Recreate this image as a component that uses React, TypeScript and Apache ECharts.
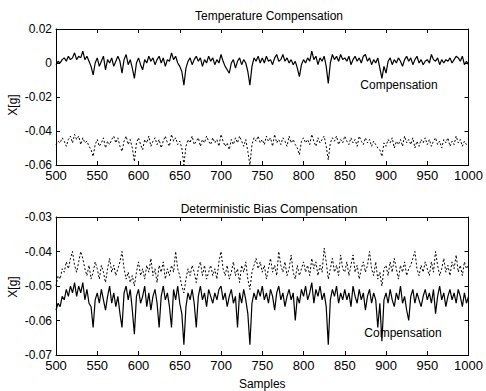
import React, { useEffect, useRef } from "react";
import * as echarts from "echarts";

const X_START = 500;
const X_STEP = 2.5;
const X_TICKS = { min: 500, max: 1000, interval: 50 };

// Temperature compensation (top) — solid = compensated, dashed = raw
const tempComp = [
  -0.001, 0.001, 0.000, 0.002, 0.003, 0.001, 0.004, 0.002, 0.003, 0.006, 0.002, 0.004, 0.003, 0.007, 0.002, 0.004, 0.001, -0.002, -0.007, 0.000,
  0.003, -0.002, 0.001, 0.004, -0.004, 0.002, 0.000, 0.003, -0.002, 0.001, 0.004, 0.001, -0.006, 0.002, 0.005, -0.001, 0.002, -0.003, -0.009, 0.000,
  0.003, -0.001, -0.004, 0.002, 0.000, 0.004, 0.001, 0.003, -0.001, 0.002, 0.004, 0.000, 0.003, -0.002, 0.002, 0.001, 0.006, 0.002, 0.004, 0.000,
  -0.002, -0.005, -0.013, -0.003, 0.001, 0.003, -0.001, 0.002, 0.004, 0.001, 0.003, -0.002, 0.002, 0.000, 0.004, 0.001, 0.003, -0.001, 0.002, 0.000,
  0.005, 0.001, -0.002, -0.004, -0.006, 0.000, 0.002, -0.003, 0.001, 0.003, -0.001, 0.002, 0.000, -0.005, -0.013, -0.002, 0.003, 0.001, 0.004, 0.000,
  0.003, 0.000, 0.004, 0.001, 0.002, -0.001, 0.003, 0.005, 0.001, 0.002, 0.005, 0.001, 0.003, 0.000, 0.002, -0.001, 0.001, -0.003, -0.008, -0.001,
  0.002, 0.000, 0.003, 0.001, 0.007, 0.002, 0.004, -0.001, 0.003, 0.001, 0.004, -0.002, -0.012, 0.000, 0.005, 0.002, 0.004, 0.001, 0.005, 0.002,
  0.003, 0.001, 0.004, -0.001, 0.002, 0.004, 0.001, 0.003, 0.000, 0.004, 0.005, 0.001, 0.003, -0.001, 0.002, 0.000, 0.003, -0.003, -0.009, -0.002,
  -0.006, 0.001, 0.003, -0.001, 0.002, 0.000, 0.003, 0.001, -0.002, 0.002, 0.004, 0.001, 0.003, -0.001, 0.002, 0.004, 0.000, 0.002, -0.001, 0.001,
  0.002, 0.000, 0.005, 0.002, 0.001, 0.003, -0.001, 0.002, 0.000, 0.002, 0.001, 0.003, 0.000, 0.002, 0.004, 0.003, 0.001, 0.004, -0.001, 0.001,
  -0.001,
];
const tempRaw = [
  -0.048, -0.046, -0.047, -0.044, -0.046, -0.049, -0.045, -0.043, -0.047, -0.042, -0.045, -0.043, -0.048, -0.044, -0.047, -0.046, -0.049, -0.051, -0.055, -0.048,
  -0.045, -0.049, -0.047, -0.044, -0.050, -0.046, -0.048, -0.045, -0.043, -0.047, -0.044, -0.049, -0.052, -0.046, -0.043, -0.048, -0.045, -0.050, -0.058, -0.047,
  -0.044, -0.048, -0.051, -0.045, -0.047, -0.043, -0.049, -0.046, -0.044, -0.048, -0.045, -0.050, -0.046, -0.043, -0.047, -0.049, -0.042, -0.046, -0.044, -0.048,
  -0.046, -0.050, -0.060, -0.049, -0.045, -0.047, -0.043, -0.048, -0.046, -0.044, -0.049, -0.045, -0.047, -0.043, -0.046, -0.048, -0.044, -0.047, -0.045, -0.049,
  -0.042, -0.046, -0.049, -0.047, -0.051, -0.045, -0.048, -0.044, -0.047, -0.043, -0.046, -0.049, -0.045, -0.052, -0.060, -0.048, -0.044, -0.046, -0.043, -0.047,
  -0.045, -0.048, -0.043, -0.046, -0.044, -0.049, -0.042, -0.047, -0.045, -0.048, -0.044, -0.046, -0.049, -0.043, -0.047, -0.045, -0.048, -0.050, -0.054, -0.046,
  -0.044, -0.047, -0.045, -0.048, -0.042, -0.046, -0.049, -0.044, -0.047, -0.045, -0.043, -0.049, -0.057, -0.047, -0.044, -0.046, -0.043, -0.048, -0.045, -0.047,
  -0.043, -0.046, -0.048, -0.044, -0.047, -0.045, -0.049, -0.043, -0.046, -0.048, -0.044, -0.047, -0.045, -0.049, -0.046, -0.048, -0.050, -0.051, -0.055, -0.047,
  -0.049, -0.045, -0.047, -0.044, -0.050, -0.046, -0.048, -0.045, -0.049, -0.043, -0.047, -0.045, -0.048, -0.044, -0.050, -0.046, -0.049, -0.045, -0.047, -0.044,
  -0.048, -0.045, -0.049, -0.046, -0.044, -0.048, -0.046, -0.050, -0.045, -0.047, -0.044, -0.049, -0.046, -0.048, -0.043, -0.047, -0.045, -0.049, -0.046, -0.048,
  -0.047,
];

// Deterministic bias compensation (bottom)
const biasComp = [
  -0.057, -0.055, -0.056, -0.053, -0.054, -0.051, -0.053, -0.050, -0.052, -0.049, -0.053, -0.050, -0.052, -0.049, -0.054, -0.051, -0.055, -0.056, -0.062, -0.054,
  -0.052, -0.055, -0.051, -0.054, -0.057, -0.053, -0.050, -0.055, -0.052, -0.056, -0.053, -0.058, -0.062, -0.052, -0.050, -0.054, -0.051, -0.057, -0.064, -0.053,
  -0.051, -0.055, -0.053, -0.050, -0.056, -0.052, -0.057, -0.053, -0.051, -0.055, -0.062, -0.053, -0.050, -0.054, -0.052, -0.056, -0.062, -0.051, -0.054, -0.050,
  -0.055, -0.058, -0.067, -0.056, -0.052, -0.054, -0.051, -0.055, -0.062, -0.053, -0.050, -0.054, -0.052, -0.056, -0.051, -0.053, -0.055, -0.052, -0.054, -0.051,
  -0.050, -0.054, -0.052, -0.056, -0.053, -0.051, -0.055, -0.053, -0.062, -0.052, -0.055, -0.051, -0.054, -0.058, -0.067, -0.055, -0.052, -0.054, -0.051, -0.053,
  -0.050, -0.054, -0.052, -0.055, -0.051, -0.053, -0.057, -0.052, -0.050, -0.054, -0.052, -0.056, -0.053, -0.051, -0.054, -0.052, -0.060, -0.053, -0.055, -0.051,
  -0.053, -0.050, -0.054, -0.052, -0.049, -0.055, -0.051, -0.053, -0.050, -0.054, -0.052, -0.056, -0.067, -0.054, -0.051, -0.053, -0.050, -0.055, -0.052, -0.054,
  -0.051, -0.054, -0.052, -0.056, -0.050, -0.053, -0.055, -0.051, -0.054, -0.052, -0.057, -0.053, -0.051, -0.055, -0.052, -0.054, -0.062, -0.055, -0.066, -0.054,
  -0.052, -0.055, -0.051, -0.054, -0.056, -0.052, -0.054, -0.050, -0.055, -0.053, -0.057, -0.060, -0.053, -0.051, -0.055, -0.052, -0.054, -0.056, -0.053, -0.051,
  -0.054, -0.052, -0.055, -0.051, -0.058, -0.053, -0.050, -0.054, -0.052, -0.056, -0.053, -0.051, -0.054, -0.052, -0.055, -0.051, -0.053, -0.056, -0.052, -0.055,
  -0.053,
];
const biasRaw = [
  -0.050, -0.047, -0.048, -0.045, -0.046, -0.043, -0.045, -0.042, -0.040, -0.044, -0.046, -0.043, -0.040, -0.042, -0.045, -0.047, -0.044, -0.048, -0.046, -0.043,
  -0.045, -0.048, -0.044, -0.046, -0.049, -0.045, -0.042, -0.046, -0.044, -0.047, -0.045, -0.043, -0.040, -0.045, -0.048, -0.046, -0.049, -0.047, -0.050, -0.046,
  -0.043, -0.047, -0.045, -0.048, -0.044, -0.046, -0.042, -0.047, -0.045, -0.049, -0.044, -0.046, -0.043, -0.048, -0.045, -0.047, -0.044, -0.046, -0.040, -0.045,
  -0.047, -0.050, -0.052, -0.048, -0.045, -0.047, -0.044, -0.046, -0.049, -0.045, -0.043, -0.047, -0.044, -0.048, -0.046, -0.044, -0.047, -0.045, -0.048, -0.043,
  -0.040, -0.045, -0.047, -0.044, -0.048, -0.046, -0.043, -0.047, -0.045, -0.049, -0.044, -0.046, -0.043, -0.048, -0.051, -0.046, -0.044, -0.042, -0.045, -0.043,
  -0.046, -0.044, -0.048, -0.045, -0.042, -0.046, -0.044, -0.047, -0.040, -0.044, -0.046, -0.043, -0.047, -0.045, -0.041, -0.046, -0.048, -0.044, -0.047, -0.045,
  -0.043, -0.046, -0.044, -0.047, -0.042, -0.045, -0.043, -0.047, -0.044, -0.046, -0.039, -0.043, -0.048, -0.045, -0.042, -0.046, -0.044, -0.047, -0.041, -0.045,
  -0.046, -0.043, -0.047, -0.044, -0.041, -0.046, -0.044, -0.048, -0.045, -0.043, -0.046, -0.044, -0.040, -0.045, -0.047, -0.043, -0.048, -0.046, -0.050, -0.045,
  -0.044, -0.047, -0.043, -0.046, -0.042, -0.045, -0.048, -0.044, -0.046, -0.043, -0.047, -0.045, -0.044, -0.042, -0.040, -0.045, -0.047, -0.044, -0.046, -0.043,
  -0.045, -0.047, -0.043, -0.046, -0.040, -0.044, -0.047, -0.045, -0.042, -0.046, -0.044, -0.047, -0.043, -0.045, -0.041, -0.046, -0.044, -0.047, -0.043, -0.045,
  -0.044,
];

const TOP_Y = { min: -0.06, max: 0.02, interval: 0.02 };
const BOT_Y = { min: -0.07, max: -0.03, interval: 0.01 };

const toPairs = (arr: number[]) => arr.map((v, i) => [X_START + i * X_STEP, v]);

const FONT = "Liberation Sans, Arial, Helvetica, sans-serif";
const NARROW = "Liberation Sans Narrow, Arial Narrow, Liberation Sans, sans-serif";

export default function App() {
  const ref = useRef<HTMLDivElement>(null);
  useEffect(() => {
    if (!ref.current) return;
    const chart = echarts.init(ref.current, null, { renderer: "svg" });
    const axisLine = { show: true, onZero: false, lineStyle: { color: "#000", width: 1 } };
    const tick = { show: true, inside: true, length: 4, lineStyle: { color: "#000" } };
    const yFmt = (v: number) => (Math.abs(v) < 1e-9 ? "0" : v.toFixed(2));
    const xFmt = (v: number) => String(Math.round(v));
    const xBottom = (gi: number, name?: string) => ({
      type: "value",
      gridIndex: gi,
      position: "bottom",
      ...X_TICKS,
      axisLine,
      axisTick: tick,
      splitLine: { show: false },
      axisLabel: { color: "#000", fontFamily: NARROW, fontSize: 13, margin: 4, formatter: xFmt },
      name: name || "",
      nameLocation: "middle",
      nameGap: 23,
      nameTextStyle: { color: "#000", fontFamily: FONT, fontSize: 12 },
    });
    const xTop = (gi: number) => ({
      type: "value",
      gridIndex: gi,
      position: "top",
      ...X_TICKS,
      axisLine,
      axisTick: tick,
      splitLine: { show: false },
      axisLabel: { show: false },
    });
    const yLeft = (gi: number, r: any) => ({
      type: "value",
      gridIndex: gi,
      position: "left",
      ...r,
      axisLine,
      axisTick: tick,
      splitLine: { show: false },
      axisLabel: { color: "#000", fontFamily: FONT, fontSize: 12, margin: 4, formatter: yFmt },
    });
    const yRight = (gi: number, r: any) => ({
      type: "value",
      gridIndex: gi,
      position: "right",
      ...r,
      axisLine,
      axisTick: tick,
      splitLine: { show: false },
      axisLabel: { show: false },
    });
    const line = (xi: number, yi: number, data: number[], dashed: boolean) => ({
      type: "line",
      xAxisIndex: xi,
      yAxisIndex: yi,
      data: toPairs(data),
      showSymbol: false,
      symbol: "none",
      lineStyle: {
        color: "#000",
        width: dashed ? 1 : 1.2,
        type: dashed ? [2, 2] : "solid",
      },
    });
    chart.setOption({
      animation: false,
      backgroundColor: "#fff",
      title: [
        {
          text: "Temperature Compensation",
          left: 264,
          top: 5,
          textAlign: "center",
          textStyle: { fontFamily: FONT, fontSize: 12, fontWeight: "normal", color: "#000" },
        },
        {
          text: "Deterministic Bias Compensation",
          left: 264,
          top: 198,
          textAlign: "center",
          textStyle: { fontFamily: FONT, fontSize: 12, fontWeight: "normal", color: "#000" },
        },
      ],
      grid: [
        { left: 56, right: 14, top: 29, height: 136 },
        { left: 56, right: 14, top: 217, height: 140 },
      ],
      xAxis: [xBottom(0), xTop(0), xBottom(1, "Samples"), xTop(1)],
      yAxis: [yLeft(0, TOP_Y), yRight(0, TOP_Y), yLeft(1, BOT_Y), yRight(1, BOT_Y)],
      series: [
        line(0, 0, tempRaw, true),
        line(0, 0, tempComp, false),
        line(2, 2, biasRaw, true),
        line(2, 2, biasComp, false),
      ],
      graphic: [
        {
          type: "text",
          x: 13,
          y: 105,
          rotation: Math.PI / 2,
          style: { text: "X[g]", fontFamily: FONT, fontSize: 12, fill: "#000", align: "center", verticalAlign: "middle" },
        },
        {
          type: "text",
          x: 13,
          y: 287,
          rotation: Math.PI / 2,
          style: { text: "X[g]", fontFamily: FONT, fontSize: 12, fill: "#000", align: "center", verticalAlign: "middle" },
        },
        {
          type: "text",
          x: 399,
          y: 85,
          style: { text: "Compensation", fontFamily: FONT, fontSize: 12, fill: "#000", align: "center", verticalAlign: "middle" },
        },
        {
          type: "text",
          x: 403,
          y: 333,
          style: { text: "Compensation", fontFamily: FONT, fontSize: 12, fill: "#000", align: "center", verticalAlign: "middle" },
        },
      ],
    });
    return () => chart.dispose();
  }, []);
  return (
    <div
      ref={ref}
      style={{ position: "fixed", left: 0, top: 0, width: 486, height: 391, background: "#fff" }}
    />
  );
}
